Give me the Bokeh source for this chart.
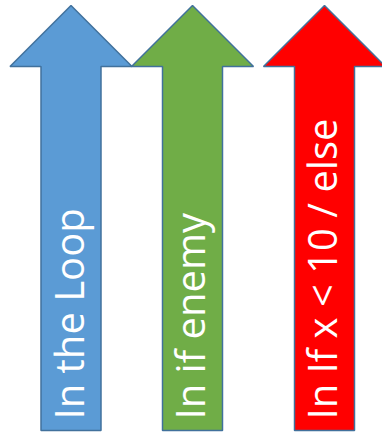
from bokeh.plotting import figure
from bokeh.models import Range1d, ColumnDataSource
from bokeh.core.properties import value
from bokeh.embed import file_html
from bokeh.resources import INLINE
import math

labels = ["In the Loop", "In if enemy", "In If x < 10 / else"]
fill_colors = ["#5B9BD5", "#70AD47", "#FF0000"]
centers = [70.5, 192, 324]

tip_y, head_base_y, bottom_y = 5, 66, 430
shaft_half, head_half = 30, 61

xs, ys = [], []
for c in centers:
    xs.append([c, c + head_half, c + shaft_half, c + shaft_half, c - shaft_half, c - shaft_half, c - head_half])
    ys.append([tip_y, head_base_y, head_base_y, bottom_y, bottom_y, head_base_y, head_base_y])

p = figure(width=382, height=434, output_backend="svg", toolbar_location=None,
           x_range=Range1d(0, 382), y_range=Range1d(434, 0), min_border=0)
p.axis.visible = False
p.grid.visible = False
p.outline_line_color = None
p.background_fill_color = "white"

src = ColumnDataSource(dict(xs=xs, ys=ys, fill=fill_colors))
p.patches("xs", "ys", source=src, fill_color="fill", line_color="#41719C", line_width=1.5)

tsrc = ColumnDataSource(dict(x=[c - 3 for c in centers], y=[419] * 3, text=labels))
p.text("x", "y", text="text", source=tsrc, angle=math.pi / 2, text_color="white",
       text_font=value("Open Sans"), text_font_size="40px", text_align="left",
       text_baseline="alphabetic")

open("out.html", "w").write(file_html(p, INLINE))
